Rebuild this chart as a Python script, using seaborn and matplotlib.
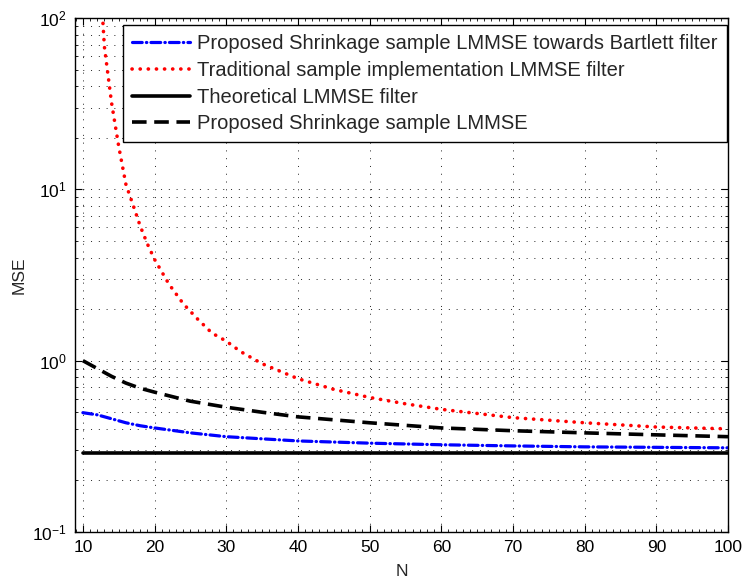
import numpy as np
import pandas as pd
import matplotlib
matplotlib.use("Agg")
import matplotlib.pyplot as plt
import matplotlib.ticker as mticker
import seaborn as sns

# ---- data ----
n_bartlett = [10, 12, 14, 16, 18, 20, 25, 30, 40, 50, 60, 70, 80, 90, 100]
mse_bartlett = [0.497, 0.483, 0.458, 0.434, 0.417, 0.405, 0.379, 0.36, 0.34, 0.33,
                0.323, 0.318, 0.314, 0.312, 0.31]

n_trad = [12.5, 13, 14, 15, 16, 17, 18, 19, 20, 22, 24, 26, 28, 30, 32, 35, 40, 45,
          50, 55, 60, 70, 80, 90, 100]
mse_trad = [150, 68, 32, 17.8, 10.7, 8.1, 6.1, 4.8, 3.9, 2.8, 2.15, 1.75, 1.45, 1.3,
            1.13, 0.96, 0.785, 0.68, 0.61, 0.56, 0.52, 0.465, 0.434, 0.41, 0.40]

n_theory = [10, 100]
mse_theory = [0.29, 0.29]

n_shrink = [10, 12, 14, 16, 18, 20, 25, 30, 35, 40, 50, 60, 70, 80, 90, 100]
mse_shrink = [1.0, 0.9, 0.81, 0.74, 0.69, 0.655, 0.58, 0.535, 0.5, 0.47, 0.434,
              0.405, 0.39, 0.379, 0.369, 0.36]

labels = ["Proposed Shrinkage sample LMMSE towards Bartlett filter",
          "Traditional sample implementation LMMSE filter",
          "Theoretical LMMSE filter",
          "Proposed Shrinkage sample LMMSE"]
x_ticks = [10, 20, 30, 40, 50, 60, 70, 80, 90, 100]

sns.set_style("ticks")
plt.rcParams["font.family"] = ["Liberation Sans", "DejaVu Sans"]
plt.rcParams["mathtext.default"] = "regular"

fig = plt.figure(figsize=(7.44, 5.79), dpi=100)
ax = fig.add_axes([75 / 744, (579 - 532) / 579, (728 - 75) / 744, (532 - 18) / 579])

lw = 2.3
sns.lineplot(x=n_bartlett, y=mse_bartlett, ax=ax, color="blue", lw=lw,
             label=labels[0])
ax.lines[-1].set_dashes((7 / lw, 3 / lw, 0.3 / lw, 3 / lw))
ax.lines[-1].set_dash_capstyle("round")

lw_r = 2.6
sns.lineplot(x=n_trad, y=mse_trad, ax=ax, color="red", lw=lw_r, label=labels[1])
ax.lines[-1].set_dashes((0.05, 2.2))
ax.lines[-1].set_dash_capstyle("round")

sns.lineplot(x=n_theory, y=mse_theory, ax=ax, color="black", lw=2.6, label=labels[2])

sns.lineplot(x=n_shrink, y=mse_shrink, ax=ax, color="black", lw=2.6, label=labels[3])
ax.lines[-1].set_dashes((10.5 / 2.6, 5.5 / 2.6))

ax.set_yscale("log")
ax.set_ylim(0.1, 100)
ax.set_xlim(8.9, 100)
ax.set_xticks(x_ticks)
ax.xaxis.set_minor_locator(mticker.MultipleLocator(1))
ax.yaxis.set_major_locator(mticker.LogLocator(base=10, numticks=10))
ax.yaxis.set_minor_locator(mticker.LogLocator(base=10, subs=np.arange(2, 10), numticks=20))
ax.yaxis.set_minor_formatter(mticker.NullFormatter())

ax.grid(True, which="major", axis="both", color="#222222", lw=0.7, dashes=(1, 7))
ax.grid(True, which="minor", axis="y", color="#222222", lw=0.7, dashes=(1, 7))

ax.tick_params(which="both", direction="in", top=True, right=True, colors="black",
               labelsize=12.5)
ax.tick_params(which="major", length=5, width=0.8)
ax.tick_params(which="minor", length=2.5, width=0.6)
ax.tick_params(axis="x", pad=6)
ax.tick_params(axis="y", pad=6)
for s in ax.spines.values():
    s.set_linewidth(1.0)
    s.set_color("black")

ax.set_xlabel("N", fontsize=12.5, labelpad=6)
ax.set_ylabel("MSE", fontsize=12.5, labelpad=4)

leg = ax.legend(loc="upper right", bbox_to_anchor=(0.998, 0.986), borderaxespad=0,
                fontsize=14.5, frameon=True, fancybox=False, framealpha=1,
                edgecolor="black", handlelength=2.9, handletextpad=0.35,
                labelspacing=0.38, borderpad=0.45)
leg.get_frame().set_linewidth(1.0)

fig.savefig("out.png", dpi=100)
